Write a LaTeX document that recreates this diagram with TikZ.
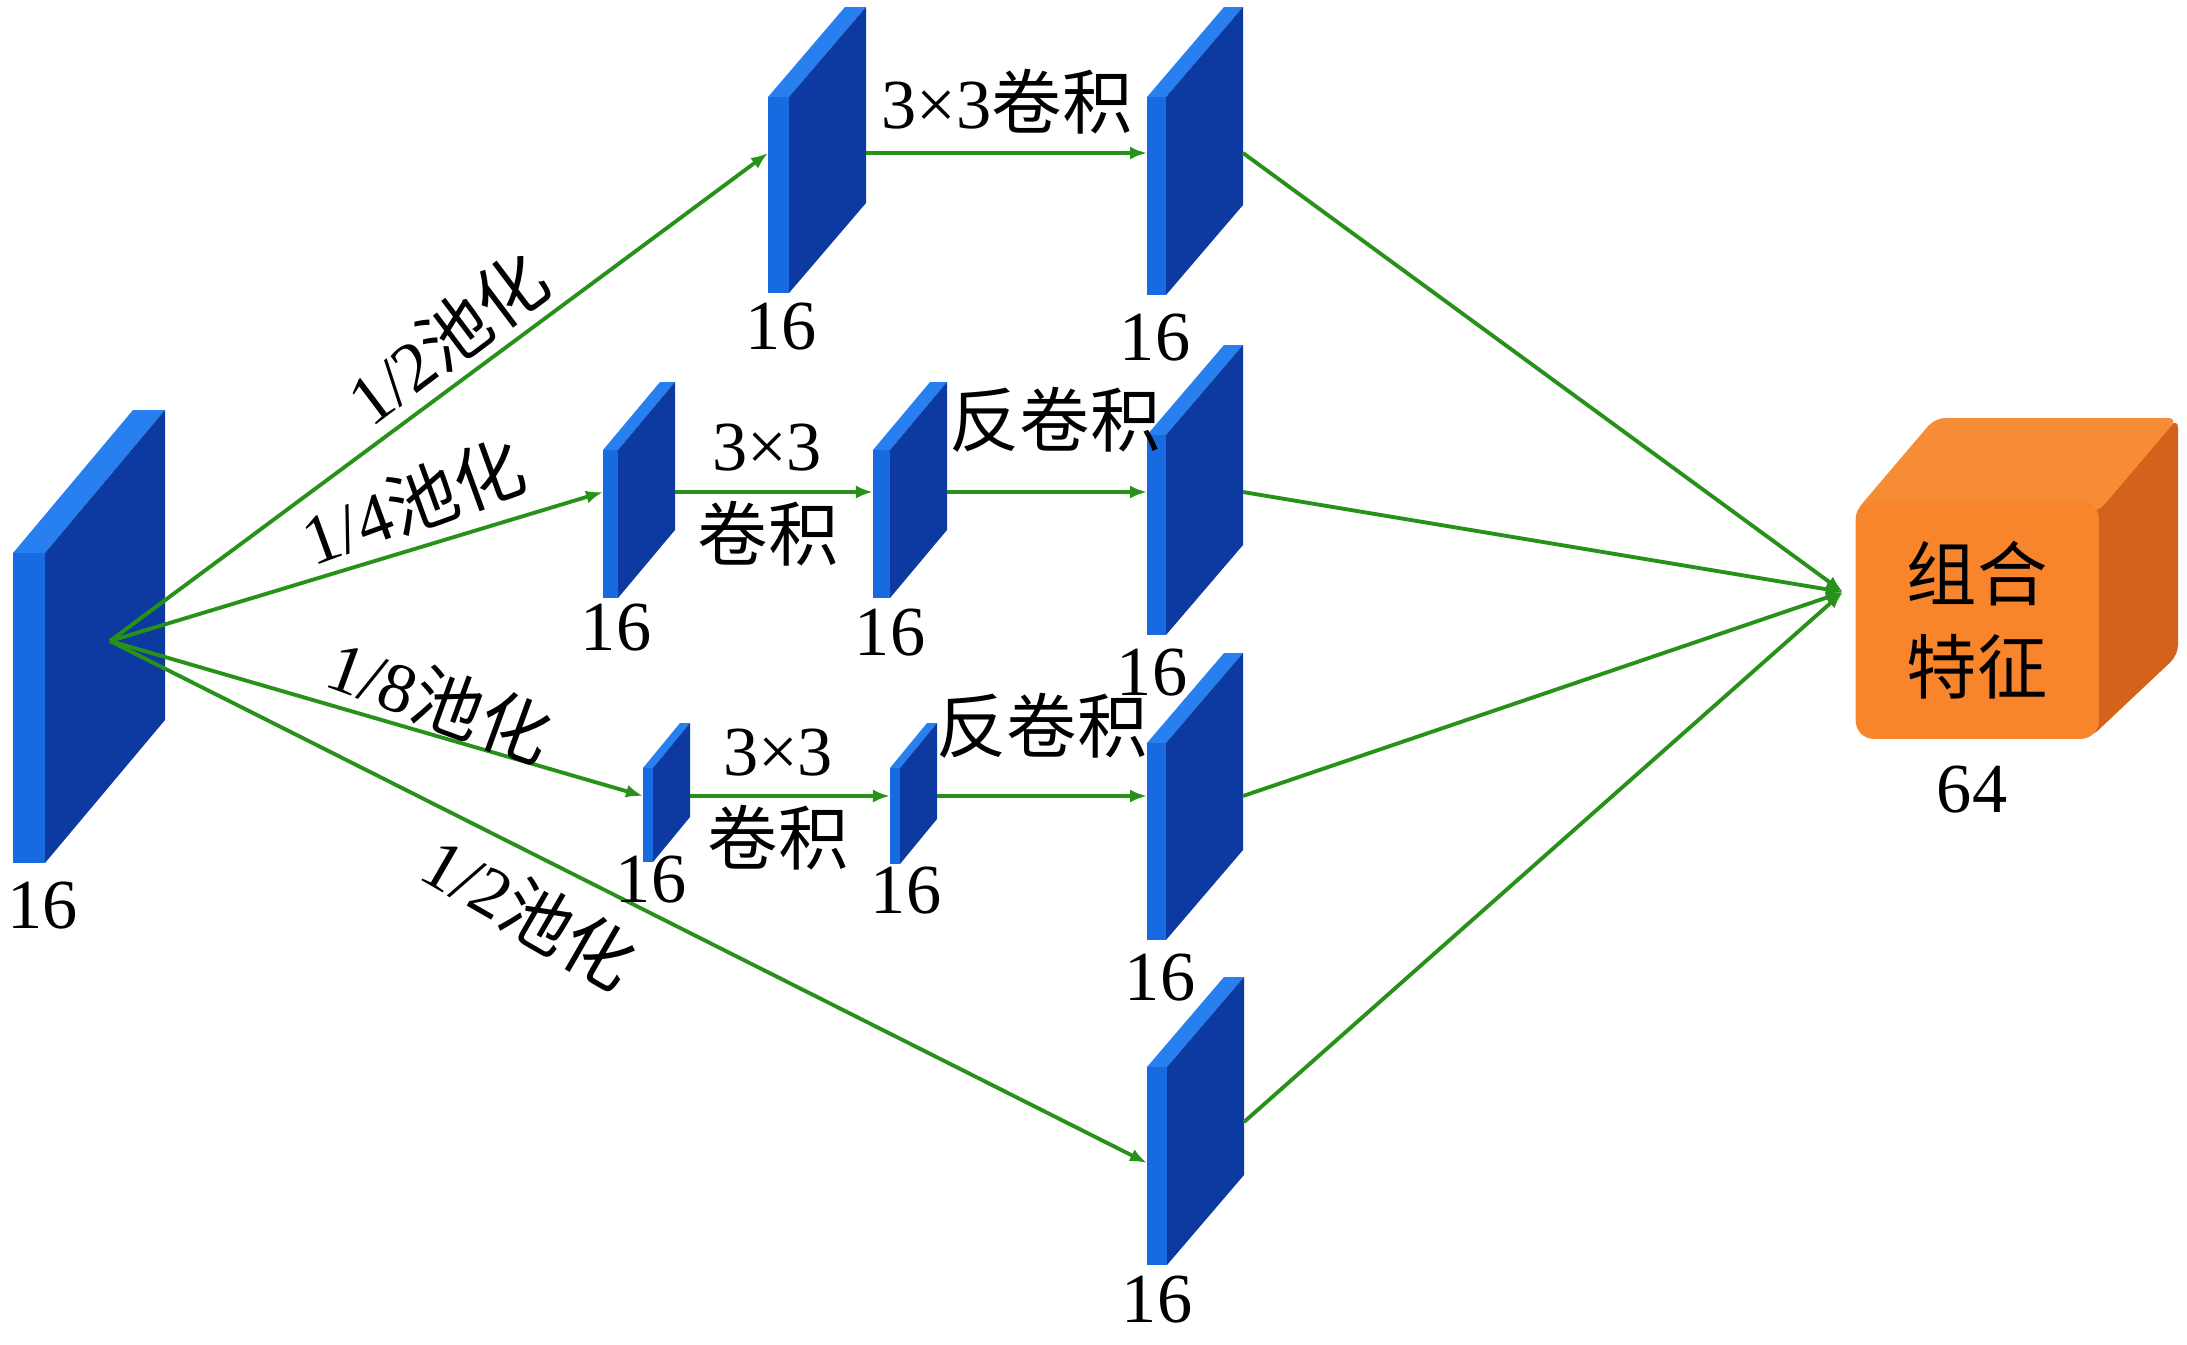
\documentclass[tikz,border=0pt]{standalone}
\usepackage{fontspec}
\setmainfont{Liberation Serif}
\newfontfamily\cjk{Noto Sans CJK SC}
\usetikzlibrary{arrows.meta,calc}
\definecolor{slabtopc}{RGB}{40,128,240}
\definecolor{slabfrontc}{RGB}{24,106,224}
\definecolor{slabsidec}{RGB}{12,58,160}
\definecolor{arrowgreen}{RGB}{40,145,25}
\definecolor{orfront}{RGB}{248,132,44}
\definecolor{ortop}{RGB}{247,140,55}
\definecolor{orside}{RGB}{212,98,26}
\tikzset{
  slabfront/.style={fill=slabfrontc, inner sep=0pt, outer sep=0pt, draw=none, rectangle},
  flow/.style={draw=arrowgreen, line width=1.1pt, -{Latex[length=0.17cm,width=0.13cm]}},
  lbl/.style={font=\fontsize{20}{24}\selectfont, inner sep=0pt, anchor=base},
  rlbl/.style={font=\fontsize{20}{24}\selectfont, inner sep=0pt},
}
\newcommand{\slab}[7]{%
  \fill[slabtopc] (#2,#3) -- ++(#4,0) -- ++(#6,-#7) -- ++(-#4,0) -- cycle;
  \fill[slabsidec] (#2+#4,#3) -- ++(#6,-#7) -- ++(0,#5) -- ++(-#6,#7) -- cycle;
  \node[slabfront, minimum width=#4*0.01cm, minimum height=#5*0.01cm, anchor=north west] (#1) at (#2,#3) {};
  \coordinate (#1r) at (#2+#4+#6,#3);
}
\begin{document}
\begin{tikzpicture}[x=0.01cm, y=-0.01cm]
\useasboundingbox (0,0) rectangle (2187,1345);
% slabs
\slab{l}{13}{553}{32}{310}{120}{143}
\slab{t1}{768}{97}{21}{196}{77}{90}
\slab{t2}{1147}{97}{19}{198}{77}{90}
\slab{a2}{603}{450}{15}{148}{57}{68}
\slab{b2}{873}{450}{17}{148}{57}{68}
\slab{r2}{1147}{435}{19}{200}{77}{90}
\slab{a3}{643}{768}{10}{94}{37}{45}
\slab{b3}{890}{768}{10}{96}{37}{45}
\slab{r3}{1147}{743}{19}{197}{77}{90}
\slab{r4}{1147}{1067}{20}{198}{77}{90}
% orange cube
\fill[orside, rounded corners=0.1cm] (2090,508) -- (2178,418) -- (2178,655) -- (2090,738) -- cycle;
\fill[ortop, rounded corners=0.1cm] (1855,512) -- (1935,418) -- (2178,418) -- (2098,512) -- cycle;
\node[fill=orfront, rounded corners=0.18cm, minimum width=2.43cm, minimum height=2.38cm,
      inner sep=0pt, anchor=north west, align=center,
      font=\cjk\fontsize{20}{26.4}\selectfont] (comb) at (1855,500) {组合\\特征};
\coordinate (src) at (110,641);
\coordinate (cin) at (1843,592);
% connectors
\draw[flow] (src) -- (t1.west |- 0,153);
\draw[flow] (src) -- (a2.west |- 0,492);
\draw[flow] (src) -- (a3.west |- 0,796);
\draw[flow] (src) -- (r4.west |- 0,1163);
\draw[flow] (t1r |- 0,153) -- (t2.west |- 0,153);
\draw[flow] (a2r |- 0,492) -- (b2.west |- 0,492);
\draw[flow] (b2r |- 0,492) -- (r2.west |- 0,492);
\draw[flow] (a3r |- 0,796) -- (b3.west |- 0,796);
\draw[flow] (b3r |- 0,796) -- (r3.west |- 0,796);
\draw[flow] (t2r |- 0,153) -- (cin);
\draw[flow] (r2r |- 0,492) -- (cin);
\draw[flow] (r3r |- 0,796) -- (cin);
\draw[flow] (r4r |- 0,1122) -- (cin);
% labels
\node[lbl] (nl) at (43,928) {16};
\node[lbl] (nt1) at (781,349) {16};
\node[lbl] (nt2) at (1155,360) {16};
\node[lbl] (na2) at (616,650) {16};
\node[lbl] (nb2) at (890,655) {16};
\node[lbl] (nr2) at (1152,695) {16};
\node[lbl] (na3) at (651,902) {16};
\node[lbl] (nb3) at (906,913) {16};
\node[lbl] (nr3) at (1160,1000) {16};
\node[lbl] (nr4) at (1157,1322) {16};
\node[lbl] (n64) at (1972,812) {64};
\node[lbl] (c1) at (1007,128) {3×3{\cjk 卷积}};
\node[lbl] (c2a) at (767,470) {3×3};
\node[lbl] (c2b) at (768,560) {\cjk 卷积};
\node[lbl] (d2) at (1055,446) {\cjk 反卷积};
\node[lbl] (c3a) at (778,775) {3×3};
\node[lbl] (c3b) at (778,864) {\cjk 卷积};
\node[lbl] (d3) at (1042,752) {\cjk 反卷积};
\node[rlbl, rotate=37] (p1) at (447,338) {1/2{\cjk 池化}};
\node[rlbl, rotate=20] (p2) at (413,502) {1/4{\cjk 池化}};
\node[rlbl, rotate=-20] (p3) at (440,700) {1/8{\cjk 池化}};
\node[rlbl, rotate=-30] (p4) at (530,912) {1/2{\cjk 池化}};
\end{tikzpicture}
\end{document}
